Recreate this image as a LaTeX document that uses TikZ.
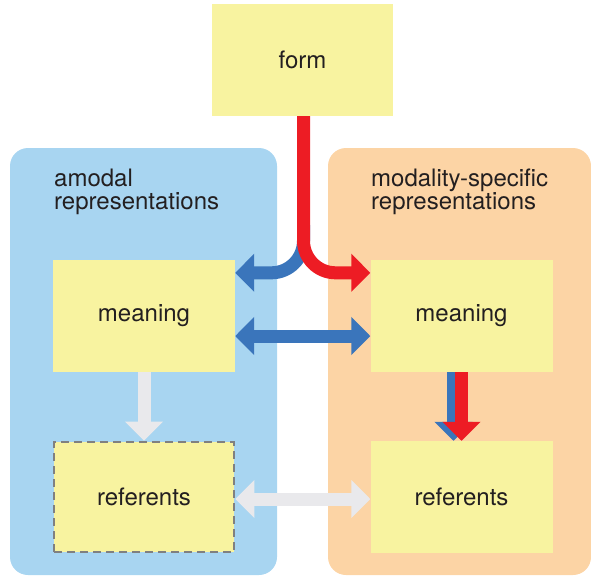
\documentclass[tikz,border=0pt]{standalone}
\usepackage{fontspec}
\setmainfont{TeX Gyre Heros}
\usepackage{tikz}
\usetikzlibrary{arrows.meta, positioning}
\definecolor{boxyellow}{HTML}{F8F3A0}
\definecolor{amodalblue}{HTML}{A8D5F1}
\definecolor{modalorange}{HTML}{FCD4A5}
\definecolor{arrowred}{HTML}{ED1C24}
\definecolor{arrowblue}{HTML}{3A75BB}
\definecolor{arrowgray}{HTML}{E9E9EC}
\definecolor{textdark}{HTML}{231F20}

\begin{document}
\begin{tikzpicture}[
  x=1pt, y=-1pt,
  every node/.style={text=textdark, font=\fontsize{24}{22.6}\selectfont},
  panel/.style={rounded corners=18pt, draw=none},
  box/.style={fill=boxyellow, minimum width=182pt, minimum height=112pt, inner sep=0pt},
  label/.style={anchor=base west, align=left, inner sep=0pt},
  fat/.style={line width=13pt, -{Triangle[length=19pt, width=37pt]}},
  fatboth/.style={line width=13pt, {Triangle[length=19pt, width=37pt]}-{Triangle[length=19pt, width=37pt]}}
]
\useasboundingbox (0,0) rectangle (591,581);

% panels
\fill[amodalblue, panel] (10,148) rectangle (277,575);
\fill[modalorange, panel] (328,148) rectangle (591,575);

\node[label] (amodal) at (54,209.5) {amodal\\representations};
\node[label] (modal) at (371,209.5) {modality-specific\\representations};

% boxes
\node[box, minimum width=181pt] (form) at (302.5,60) {form};
\node[box] (meaningL) at (144,316) {meaning};
\node[box] (meaningR) at (461.5,316) {meaning};
\node[box, draw=gray, line width=2.7pt, dash pattern=on 8pt off 5pt,
  minimum width=180pt, minimum height=110pt] (referentsL) at (144,497) {referents};
\node[box] (referentsR) at (461.5,497) {referents};

\coordinate (split) at (303.5,225);

% form to meaning
\draw[fat, arrowblue, rounded corners=32pt] (split) |- ([yshift=-13pt]meaningL.north east);
\draw[fat, arrowred, rounded corners=32pt] ([xshift=1pt]form.south) |- ([yshift=-13pt]meaningR.north west);

% meaning to meaning
\draw[fatboth, arrowblue] ([yshift=-20pt]meaningL.east) -- ([yshift=-20pt]meaningR.west);

% meaning to referents
\draw[fat, arrowgray] (meaningL.south) -- (referentsL.north);
\draw[fat, arrowblue] ([xshift=-8pt]meaningR.south) -- ([xshift=-8pt]referentsR.north);
\draw[fat, arrowred] (meaningR.south) -- (referentsR.north);

% referents to referents
\draw[fatboth, arrowgray] ([yshift=-2pt]referentsL.east) -- ([yshift=-2pt]referentsR.west);
\end{tikzpicture}
\end{document}
